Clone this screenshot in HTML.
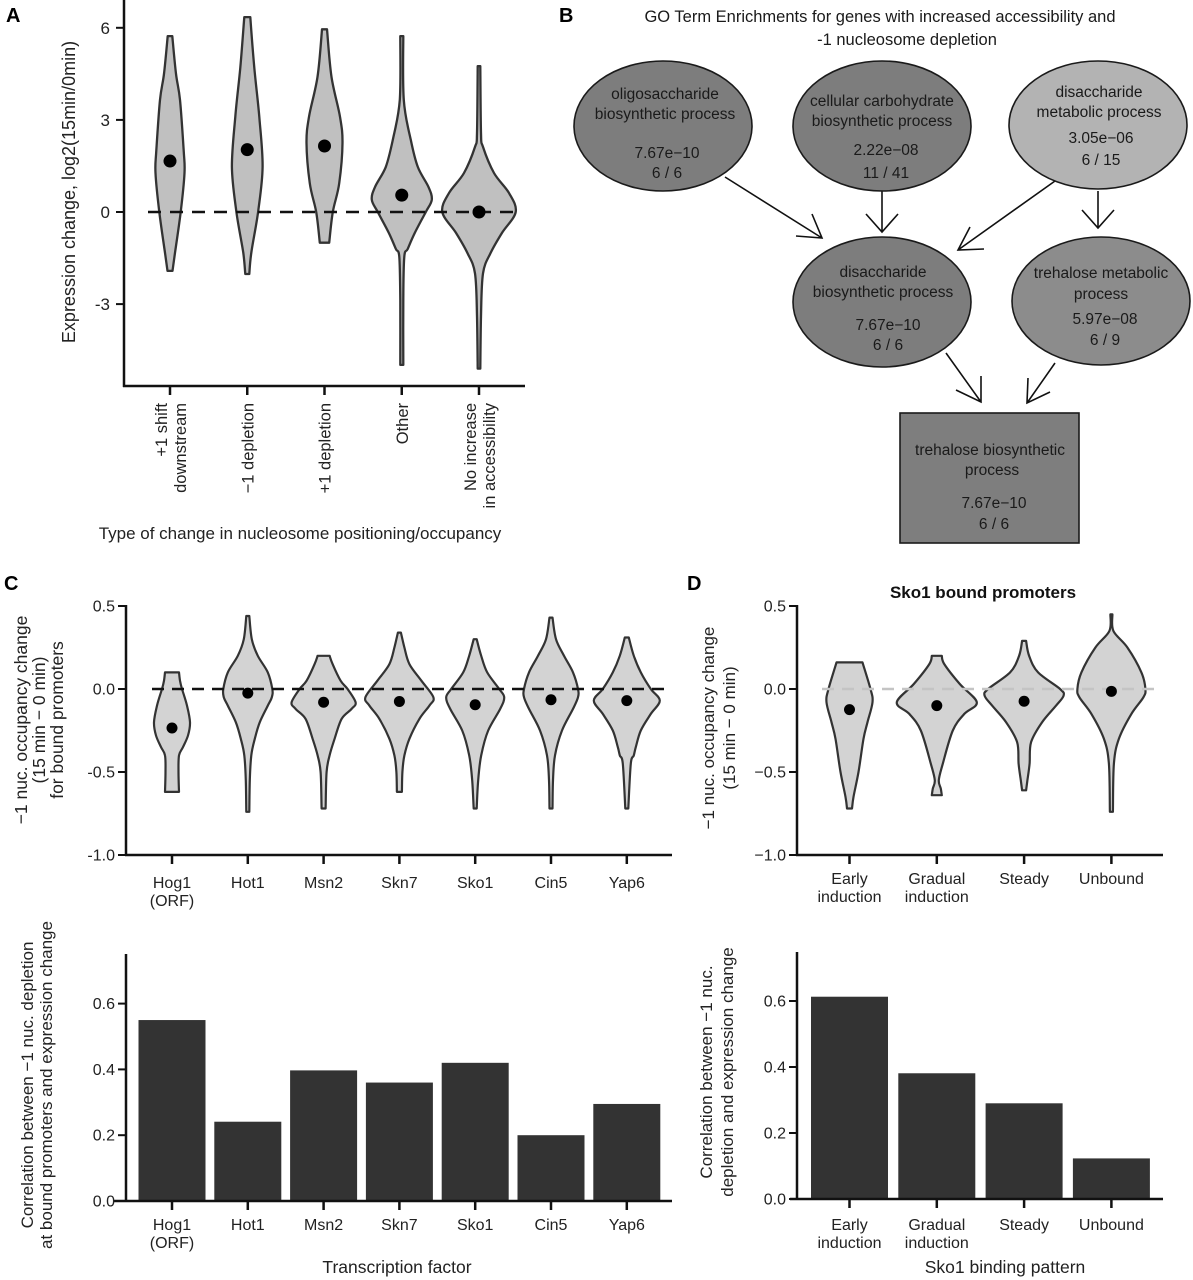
<!DOCTYPE html>
<html><head><meta charset="utf-8">
<style>
html,body{margin:0;padding:0;background:#fff;}
svg{display:block;font-family:"Liberation Sans",sans-serif;}
</style></head>
<body>
<svg id="fig" xmlns="http://www.w3.org/2000/svg" width="1193" height="1280" viewBox="0 0 1193 1280">
<rect width="1193" height="1280" fill="#fff"/>
<text x="6" y="22" font-size="20" font-weight="bold">A</text>
<text x="559" y="22" font-size="20" font-weight="bold">B</text>
<text x="4" y="590" font-size="20" font-weight="bold">C</text>
<text x="687" y="590" font-size="20" font-weight="bold">D</text>

<g font-size="15.5" fill="#1a1a1a" text-anchor="middle">
<text x="880" y="22" font-size="16.5">GO Term Enrichments for genes with increased accessibility and</text>
<text x="907" y="45" font-size="16.5">-1 nucleosome depletion</text>
<g stroke="#111" stroke-width="1.6" fill="none">
<path d="M725,177 L822,238 M796,236 L822,238 L812,214"/>
<path d="M882,191 L882,232 M866,214 L882,232 L898,214"/>
<path d="M1055,181 L958,250 M970,227 L958,250 L984,249"/>
<path d="M1098,191 L1098,228 M1082,210 L1098,228 L1114,210"/>
<path d="M946,353 L981,402 M956,390 L981,402 L981,376"/>
<path d="M1055,363 L1027,403 M1028,378 L1027,403 L1050,392"/>
</g>
<g stroke="#1a1a1a" stroke-width="1.6">
<ellipse cx="663" cy="126" rx="89" ry="65" fill="#7d7d7d"/>
<ellipse cx="882" cy="126" rx="89" ry="65" fill="#7d7d7d"/>
<ellipse cx="1098" cy="125" rx="89" ry="64" fill="#b3b3b3"/>
<ellipse cx="882" cy="302" rx="89" ry="65" fill="#7d7d7d"/>
<ellipse cx="1101" cy="301" rx="89" ry="64" fill="#8c8c8c"/>
<rect x="900" y="413" width="179" height="130" fill="#7e7e7e"/>
</g>
<g stroke="none">
<text x="665" y="99">oligosaccharide</text><text x="665" y="119">biosynthetic process</text>
<text x="667" y="158">7.67e−10</text><text x="667" y="178">6 / 6</text>
<text x="882" y="106">cellular carbohydrate</text><text x="882" y="126">biosynthetic process</text>
<text x="886" y="155">2.22e−08</text><text x="886" y="178">11 / 41</text>
<text x="1099" y="97">disaccharide</text><text x="1099" y="117">metabolic process</text>
<text x="1101" y="143">3.05e−06</text><text x="1101" y="165">6 / 15</text>
<text x="883" y="277">disaccharide</text><text x="883" y="297">biosynthetic process</text>
<text x="888" y="330">7.67e−10</text><text x="888" y="350">6 / 6</text>
<text x="1101" y="278">trehalose metabolic</text><text x="1101" y="299">process</text>
<text x="1105" y="324">5.97e−08</text><text x="1105" y="345">6 / 9</text>
<text x="990" y="455">trehalose biosynthetic</text><text x="992" y="475">process</text>
<text x="994" y="508">7.67e−10</text><text x="994" y="529">6 / 6</text>
</g>
</g>

<g id="panelA"></g>
<g id="panelC"></g>
<g id="panelCb"></g>
<g id="panelD"></g>
<g id="panelDb"></g>
</svg>
<script>
const aCategories = [["+1 shift","downstream"],["\u22121 depletion"],["+1 depletion"],["Other"],["No increase","in accessibility"]];
const aMeans = [1.66, 2.03, 2.15, 0.55, 0.0];
const aTicks = [6, 3, 0, -3];
const aTickLabels = ["6", "3", "0", "-3"];
const aShapes = [
 [[5.73,2.3],[4.5,6],[3.65,10],[2.0,13.7],[1.27,14.5],[0,10.7],[-1.33,5],[-1.92,2.5]],
 [[6.35,3],[4.7,7],[3.1,12],[1.47,15.3],[0,10.8],[-1.33,4],[-2.02,2]],
 [[5.95,2.5],[4.4,7],[3.1,15.5],[2.25,18],[0.93,14.7],[0,8.3],[-1.0,4.7]],
 [[5.73,1.5],[3.65,2],[2.35,9],[1.47,16],[0.82,26.7],[0.4,30],[0,24],[-0.68,13],[-1.2,6],[-1.46,2.5],[-2.87,1.5],[-4.98,1.5]],
 [[4.75,1.3],[2.57,2],[2.12,4],[1.27,15],[0.62,30],[0,36.7],[-0.68,23],[-1.33,11.7],[-2.0,4],[-3.4,2],[-5.1,1.3]]
];
const cCategories = [["Hog1","(ORF)"],["Hot1"],["Msn2"],["Skn7"],["Sko1"],["Cin5"],["Yap6"]];
const cMeans = [-0.235, -0.025, -0.08, -0.075, -0.095, -0.065, -0.07];
const cTicks = [0.5, 0.0, -0.5, -1.0];
const cTickLabels = ["0.5", "0.0", "-0.5", "-1.0"];
const cShapes = [
 [[0.1,7],[0.05,8],[0,10],[-0.1,15],[-0.2,18],[-0.28,16],[-0.35,11],[-0.4,7],[-0.5,6.5],[-0.62,7]],
 [[0.44,1.5],[0.3,4],[0.2,10],[0.1,20],[0.0,24.5],[-0.05,24],[-0.1,20],[-0.2,12],[-0.3,7],[-0.4,3.5],[-0.55,2],[-0.74,1.5]],
 [[0.2,6],[0.15,9],[0.05,17],[0,24],[-0.08,32],[-0.12,28],[-0.18,18],[-0.3,11],[-0.4,6],[-0.5,3],[-0.72,2]],
 [[0.34,1.5],[0.25,5],[0.15,10],[0.05,22],[-0.05,34],[-0.1,30],[-0.18,20],[-0.3,10],[-0.4,5],[-0.5,3],[-0.62,2.5]],
 [[0.3,1.5],[0.2,6],[0.1,12],[0,24],[-0.05,29],[-0.12,25],[-0.25,13],[-0.4,6],[-0.55,3],[-0.72,1.5]],
 [[0.43,1.5],[0.3,5],[0.2,13],[0.1,22],[0,27],[-0.05,27],[-0.12,22],[-0.25,11],[-0.4,4],[-0.55,2],[-0.72,1.5]],
 [[0.31,2],[0.2,7],[0.1,14],[0,24],[-0.07,33],[-0.15,24],[-0.25,14],[-0.35,9],[-0.4,7],[-0.45,4],[-0.72,1.5]]
];
const cBarValues = [0.55, 0.241, 0.397, 0.36, 0.42, 0.20, 0.295];
const barTicks = [0.0, 0.2, 0.4, 0.6];
const barTickLabels = ["0.0", "0.2", "0.4", "0.6"];
const dCategories = [["Early","induction"],["Gradual","induction"],["Steady"],["Unbound"]];
const dMeans = [-0.124, -0.1, -0.074, -0.014];
const dTicks = [0.5, 0.0, -0.5, -1.0];
const dTickLabels = ["0.5", "0.0", "\u22120.5", "\u22121.0"];
const dShapes = [
 [[0.16,13],[0.0,21],[-0.08,23],[-0.2,18],[-0.3,14],[-0.5,9],[-0.65,4],[-0.72,2.5]],
 [[0.2,5],[0.15,7.5],[0.03,23],[-0.08,40],[-0.15,27.5],[-0.25,16],[-0.45,6],[-0.55,2],[-0.6,4],[-0.64,5]],
 [[0.29,2],[0.2,5],[0.1,14],[0.0,36],[-0.04,39.5],[-0.1,32],[-0.2,18],[-0.32,7],[-0.45,5.5],[-0.55,3.3],[-0.61,2]],
 [[0.45,1],[0.35,2],[0.25,16],[0.1,30],[0.0,34],[-0.05,32],[-0.15,20],[-0.3,7.5],[-0.45,2.5],[-0.74,1.5]]
];
const dBarValues = [0.613, 0.381, 0.29, 0.123];

const NS = "http://www.w3.org/2000/svg";
function mk(parent, tag, attrs) {
  const el = document.createElementNS(NS, tag);
  for (const k in attrs) el.setAttribute(k, attrs[k]);
  parent.appendChild(el);
  return el;
}
function smoothSide(pts) {
  // Catmull-Rom to cubic bezier, pts already started with M/L at pts[0]
  let d = "";
  for (let i = 0; i < pts.length - 1; i++) {
    const p0 = pts[Math.max(0, i - 1)], p1 = pts[i], p2 = pts[i + 1], p3 = pts[Math.min(pts.length - 1, i + 2)];
    const c1x = p1[0] + (p2[0] - p0[0]) / 6, c1y = p1[1] + (p2[1] - p0[1]) / 6;
    const c2x = p2[0] - (p3[0] - p1[0]) / 6, c2y = p2[1] - (p3[1] - p1[1]) / 6;
    d += " C" + c1x.toFixed(1) + "," + c1y.toFixed(1) + " " + c2x.toFixed(1) + "," + c2y.toFixed(1) + " " + p2[0].toFixed(1) + "," + p2[1].toFixed(1);
  }
  return d;
}
function violinPath(shape, cx, yf) {
  const right = shape.map(p => [cx + p[1], yf(p[0])]);
  const left = shape.slice().reverse().map(p => [cx - p[1], yf(p[0])]);
  let d = "M" + right[0][0].toFixed(1) + "," + right[0][1].toFixed(1);
  d += smoothSide(right);
  d += " L" + left[0][0].toFixed(1) + "," + left[0][1].toFixed(1);
  d += smoothSide(left);
  return d + " Z";
}
const LINE = "#333";

(function(){
  const g = document.getElementById("panelA");
  const yA = v => 212 - v * 30.7;
  const xA = i => 170 + i * 77.25;
  let ax = mk(g, "line", {x1:124, y1:0, x2:124, y2:387, stroke:"#111", "stroke-width":2.5});
  
  
  let bx = mk(g, "line", {x1:123, y1:386, x2:525, y2:386, stroke:"#111", "stroke-width":2.5});
  
  
  aTicks.forEach((t, i) => {
    mk(g, "line", {x1:116, y1:yA(t), x2:124, y2:yA(t), stroke:"#111", "stroke-width":2});
    const tx = mk(g, "text", {x:110, y:yA(t)+6, "font-size":17, "text-anchor":"end", fill:"#222"});
    tx.textContent = aTickLabels[i];
    
    
  });
  aShapes.forEach((s, i) => {
    const p = mk(g, "path", {d: violinPath(s, xA(i), yA), fill:"#c0c0c0", stroke:LINE, "stroke-width":2.3, "stroke-linejoin":"round"});
    
    
  });
  const dl = mk(g, "line", {x1:148, y1:yA(0), x2:518, y2:yA(0), stroke:"#111", "stroke-width":2.5, "stroke-dasharray":"13,9"});
  
  
  aMeans.forEach((m, i) => {
    const c = mk(g, "circle", {cx:xA(i), cy:yA(m), r:6.5, fill:"#000"});
    
    
  });
  aCategories.forEach((lab, i) => {
    const cx = xA(i);
    mk(g, "line", {x1:cx, y1:386, x2:cx, y2:395, stroke:"#111", "stroke-width":2.5});
    lab.forEach((line, j) => {
      const off = lab.length === 1 ? 6 : (j === 0 ? -3 : 16);
      const lx = cx + off;
      const t = mk(g, "text", {x:lx, y:403, "font-size":16.5, "text-anchor":"end", transform:"rotate(-90 " + lx + " 403)", fill:"#222"});
      t.textContent = line;
      
      
    });
  });
  const yt = mk(g, "text", {x:75, y:192, "font-size":18, "text-anchor":"middle", transform:"rotate(-90 75 192)", fill:"#222"});
  yt.textContent = "Expression change, log2(15min/0min)";
  
  
  const xt = mk(g, "text", {x:300, y:539, "font-size":17, "text-anchor":"middle", fill:"#222"});
  xt.textContent = "Type of change in nucleosome positioning/occupancy";
  
  
})();

function violinPanel(gid, cats, shapes, means, ticks, tickLabels, xf, yf, axX, axRight, dashStart, dashColor, r, fill, labelY) {
  const g = document.getElementById(gid);
  const ya = mk(g, "line", {x1:axX, y1:yf(0.5)-1, x2:axX, y2:yf(-1)+1, stroke:"#111", "stroke-width":2.5});
  
  
  const xa = mk(g, "line", {x1:axX-1, y1:yf(-1), x2:axRight, y2:yf(-1), stroke:"#111", "stroke-width":2.5});
  
  
  ticks.forEach((t, i) => {
    mk(g, "line", {x1:axX-8, y1:yf(t), x2:axX, y2:yf(t), stroke:"#111", "stroke-width":2});
    const tx = mk(g, "text", {x:axX-11, y:yf(t)+5.5, "font-size":16, "text-anchor":"end", fill:"#222"});
    tx.textContent = tickLabels[i];
    
    
  });
  shapes.forEach((s, i) => {
    const p = mk(g, "path", {d: violinPath(s, xf(i), yf), fill:fill, stroke:LINE, "stroke-width":2.2, "stroke-linejoin":"round"});
    
    
  });
  const dl = mk(g, "line", {x1:dashStart, y1:yf(0), x2:axRight-8, y2:yf(0), stroke:dashColor, "stroke-width":2.5, "stroke-dasharray":"12,8"});
  
  
  means.forEach((m, i) => {
    const c = mk(g, "circle", {cx:xf(i), cy:yf(m), r:r, fill:"#000"});
    
    
  });
  cats.forEach((lab, i) => {
    const cx = xf(i);
    mk(g, "line", {x1:cx, y1:yf(-1), x2:cx, y2:yf(-1)+9, stroke:"#111", "stroke-width":2.5});
    lab.forEach((line, j) => {
      const t = mk(g, "text", {x:cx, y:labelY + j*18, "font-size":16, "text-anchor":"middle", fill:"#222"});
      t.textContent = line;
      
      
    });
  });
}
const yC = v => 689 - v * 166;
const xC = i => 172 + i * 75.8;
violinPanel("panelC", cCategories, cShapes, cMeans, cTicks, cTickLabels, xC, yC, 126, 672, 152, "#111", 5.5, "#d3d3d3", 888);
const xD = i => 849.5 + i * 87.3;
violinPanel("panelD", dCategories, dShapes, dMeans, dTicks, dTickLabels, xD, yC, 797, 1163, 822, "#c4c4c4", 5.5, "#d3d3d3", 884);

(function(){
  const g = document.getElementById("panelC");
  [["\u22121 nuc. occupancy change",27],["(15 min \u2212 0 min)",45],["for bound promoters",63]].forEach(l => {
    const t = mk(g, "text", {x:l[1], y:720, "font-size":17.5, "text-anchor":"middle", transform:"rotate(-90 "+l[1]+" 720)", fill:"#222"});
    t.textContent = l[0];
    
    
  });
  const gd = document.getElementById("panelD");
  [["\u22121 nuc. occupancy change",714],["(15 min \u2212 0 min)",735]].forEach(l => {
    const t = mk(gd, "text", {x:l[1], y:728, "font-size":17, "text-anchor":"middle", transform:"rotate(-90 "+l[1]+" 728)", fill:"#222"});
    t.textContent = l[0];
    
    
  });
  const tt = mk(gd, "text", {x:983, y:598, "font-size":17, "font-weight":"bold", "text-anchor":"middle", fill:"#111"});
  tt.textContent = "Sko1 bound promoters";
  
  
})();

function barPanel(gid, cats, vals, xf, yf, axX, axLeft, axRight, axTop, bw, labelY, xTitle, xTitleX, yTitleLines, yTitleY) {
  const g = document.getElementById(gid);
  vals.forEach((v, i) => {
    const b = mk(g, "rect", {x:xf(i)-bw/2, y:yf(v), width:bw, height:yf(0)-yf(v), fill:"#333"});
    
    
  });
  const ya = mk(g, "line", {x1:axX, y1:axTop, x2:axX, y2:yf(0), stroke:"#111", "stroke-width":2.5});
  
  
  const xa = mk(g, "line", {x1:axLeft, y1:yf(0), x2:axRight, y2:yf(0), stroke:"#111", "stroke-width":2.5});
  
  
  barTicks.forEach((t, i) => {
    mk(g, "line", {x1:axX-8, y1:yf(t), x2:axX, y2:yf(t), stroke:"#111", "stroke-width":2});
    const tx = mk(g, "text", {x:axX-11, y:yf(t)+5.5, "font-size":16, "text-anchor":"end", fill:"#222"});
    tx.textContent = barTickLabels[i];
    
    
  });
  cats.forEach((lab, i) => {
    const cx = xf(i);
    mk(g, "line", {x1:cx, y1:yf(0), x2:cx, y2:yf(0)+9, stroke:"#111", "stroke-width":2.5});
    lab.forEach((line, j) => {
      const t = mk(g, "text", {x:cx, y:labelY + j*18, "font-size":16, "text-anchor":"middle", fill:"#222"});
      t.textContent = line;
      
      
    });
  });
  const xt = mk(g, "text", {x:xTitleX, y:labelY + 43, "font-size":17.5, "text-anchor":"middle", fill:"#222"});
  xt.textContent = xTitle;
  
  
  yTitleLines.forEach(l => {
    const t = mk(g, "text", {x:l[1], y:yTitleY, "font-size":17, "text-anchor":"middle", transform:"rotate(-90 "+l[1]+" "+yTitleY+")", fill:"#222"});
    t.textContent = l[0];
    
    
  });
}
const yCb = v => 1201 - v * 329;
barPanel("panelCb", cCategories, cBarValues, xC, yCb, 126, 114, 672, 954, 67, 1230,
  "Transcription factor", 397, [["Correlation between \u22121 nuc. depletion",33],["at bound promoters and expression change",52]], 1085);
const yDb = v => 1199 - v * 330;
barPanel("panelDb", dCategories, dBarValues, xD, yDb, 797, 790, 1163, 952, 77, 1230,
  "Sko1 binding pattern", 1005, [["Correlation between \u22121 nuc.",712],["depletion and expression change",733]], 1072);
</script>
</body></html>
